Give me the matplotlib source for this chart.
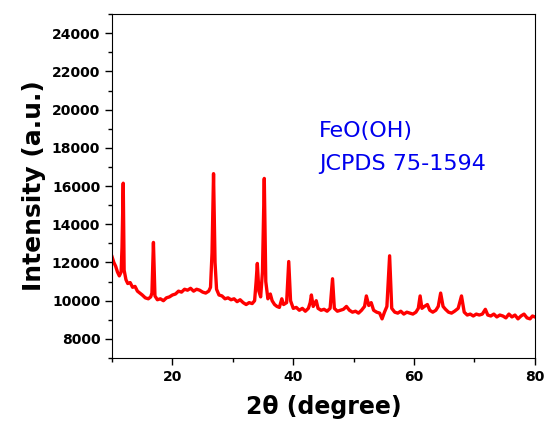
import matplotlib
matplotlib.use("Agg")
import matplotlib.pyplot as plt
from matplotlib.ticker import MultipleLocator

# XRD pattern (2theta in degree, intensity in a.u.)
two_theta = [
    10.0, 10.3, 10.6, 10.9, 11.2, 11.5, 11.65, 11.85, 12.0, 12.3, 12.6, 13.0, 13.4, 13.8,
    14.2, 14.6, 15.0, 15.5, 16.0, 16.4, 16.6, 16.85, 17.1, 17.5, 18.0, 18.5, 19.0, 19.5,
    20.0, 20.5, 21.0, 21.5, 22.0, 22.5, 23.0, 23.5, 24.0, 24.5, 25.0, 25.5, 26.0, 26.3,
    26.55, 26.8, 27.05, 27.3, 27.7, 28.2, 28.7, 29.2, 29.7, 30.2, 30.7, 31.2, 31.7, 32.2,
    32.7, 33.2, 33.6, 33.85, 34.05, 34.3, 34.6, 34.9, 35.2, 35.45, 35.8, 36.2, 36.5, 36.9,
    37.3, 37.7, 38.1, 38.4, 38.9, 39.25, 39.55, 40.0, 40.5, 41.0, 41.5, 42.0, 42.5, 42.8,
    43.0, 43.3, 43.8, 44.1, 44.6, 45.1, 45.6, 46.1, 46.5, 46.8, 47.3, 47.8, 48.3, 48.8,
    49.3, 49.8, 50.3, 50.8, 51.3, 51.8, 52.1, 52.5, 52.9, 53.3, 53.8, 54.3, 54.7, 55.1,
    55.5, 55.95, 56.3, 56.8, 57.3, 57.8, 58.3, 58.8, 59.3, 59.8, 60.3, 60.7, 61.0, 61.3,
    61.7, 62.2, 62.6, 63.1, 63.6, 64.0, 64.4, 64.8, 65.2, 65.7, 66.2, 66.7, 67.3, 67.85,
    68.3, 68.8, 69.3, 69.8, 70.3, 70.8, 71.3, 71.8, 72.2, 72.7, 73.2, 73.7, 74.2, 74.7,
    75.2, 75.7, 76.2, 76.7, 77.2, 77.7, 78.2, 78.7, 79.2, 79.6, 80.0,
]
intensity = [
    12300, 12000, 11800, 11500, 11300, 11500, 12800, 16150, 11600, 11100, 10900, 10950, 10700, 10750,
    10500, 10400, 10300, 10150, 10100, 10200, 10400, 13050, 10250, 10050, 10100, 10000, 10150, 10200,
    10300, 10350, 10500, 10450, 10600, 10550, 10650, 10500, 10600, 10550, 10450, 10400, 10500, 10700,
    12500, 16650, 12000, 10600, 10300, 10250, 10100, 10150, 10050, 10100, 9950, 10050, 9900, 9800,
    9900, 9850, 10000, 11000, 11950, 10500, 10200, 11500, 16400, 11000, 10100, 10350, 10000, 9800,
    9700, 9650, 10100, 9800, 9900, 12050, 10000, 9600, 9650, 9500, 9600, 9450, 9600, 9900,
    10300, 9700, 10000, 9600, 9500, 9550, 9450, 9600, 11150, 9600, 9450, 9500, 9550, 9700,
    9500, 9400, 9450, 9350, 9500, 9700, 10250, 9750, 9900, 9500, 9400, 9350, 9050, 9400,
    9700, 12350, 9600, 9400, 9350, 9450, 9300, 9400, 9350, 9300, 9400, 9600, 10250, 9600,
    9700, 9800, 9500, 9400, 9500, 9700, 10400, 9700, 9550, 9400, 9350, 9450, 9600, 10250,
    9400, 9250, 9300, 9200, 9300, 9250, 9300, 9550, 9250, 9200, 9300, 9150, 9250, 9200,
    9100, 9300, 9150, 9250, 9050, 9200, 9300, 9100, 9050, 9200, 9150,
]

fig = plt.figure(figsize=(5.52, 4.42), dpi=100)
ax = fig.add_axes([0.203, 0.19, 0.766, 0.778])

ax.plot(two_theta, intensity, color="red", linewidth=2.4)

ax.set_xlim(10, 80)
ax.set_ylim(7000, 25000)
ax.xaxis.set_major_locator(MultipleLocator(20))
ax.xaxis.set_minor_locator(MultipleLocator(10))
ax.set_yticks(range(8000, 24001, 2000))
ax.yaxis.set_minor_locator(MultipleLocator(1000))
ax.tick_params(which="major", direction="out", length=5, width=1, labelsize=10)
ax.tick_params(which="minor", direction="out", length=3, width=1)
for lab in ax.get_xticklabels() + ax.get_yticklabels():
    lab.set_fontweight("bold")

ax.set_xlabel("2θ (degree)", fontsize=17, fontweight="bold", labelpad=8)
ax.set_ylabel("Intensity (a.u.)", fontsize=18, fontweight="bold", labelpad=4)

ax.text(0.49, 0.69, "FeO(OH)\nJCPDS 75-1594", transform=ax.transAxes,
        color="#0000ee", fontsize=16, va="top", ha="left", linespacing=1.8)

fig.savefig("out.png", dpi=100)
